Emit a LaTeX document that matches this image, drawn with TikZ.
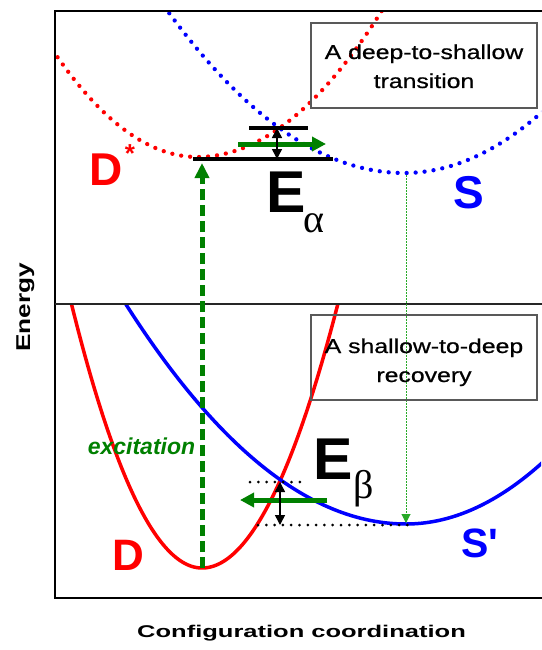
\documentclass[tikz,border=0pt]{standalone}
\usepackage{fontspec}
\setmainfont{Liberation Sans}
\newfontfamily\grk{Liberation Serif}
\newfontfamily\rawsans[Ligatures=TeXOff]{Liberation Sans}
\usepackage{graphicx}
\usetikzlibrary{arrows.meta}
\definecolor{dgreen}{RGB}{0,128,0}
\definecolor{lgreen}{RGB}{40,170,40}
\definecolor{pred}{RGB}{255,0,0}
\definecolor{pblue}{RGB}{0,0,255}
\begin{document}
\begin{tikzpicture}[x=1pt,y=-1pt,
 dotcurve/.style={line width=4.3pt, dash pattern=on 0pt off 9pt, line cap=round},
 solidcurve/.style={line width=3.5pt},
 levelline/.style={line width=3.2pt},
 dotlevel/.style={line width=3pt, dash pattern=on 0pt off 8.3pt, line cap=round},
 movearrow/.style={dgreen, line width=5pt, -{Triangle[length=14pt,width=14pt]}},
 barrier/.style={line width=1.5pt, {Triangle[length=10pt,width=10pt]}-{Triangle[length=10pt,width=10pt]}},
 biglet/.style={inner sep=0pt, anchor=base west, font=\fontsize{59}{60}\selectfont\bfseries},
 greeklet/.style={inner sep=0pt, anchor=base west, font=\fontsize{40}{40}\selectfont\grk},
 curvelabel/.style={inner sep=0pt, anchor=base west},
 infobox/.style={draw=black!65, line width=1.5pt, minimum width=226pt, minimum height=85pt, inner sep=0pt},
 infotext/.style={inner sep=0pt, font=\fontsize{20}{29}\selectfont\addfontfeature{FakeBold=0.6}}
]
\useasboundingbox (0,0) rectangle (541,650);
\fill[white] (0,0) rectangle (541,650);

% ---- curves, top panel (dotted) ----
\begin{scope}
\clip (55,13) rectangle (541,304);
\draw[pred, dotcurve] plot[domain=-150:185, samples=120]
  ({197.5+\x}, {157-((\x<0)?0.0714:0.0656)*\x*((\x<0)?0.0714:0.0656)*\x});
\draw[pblue, dotcurve] plot[domain=-240:140, samples=120]
  ({404+\x}, {173-((\x<0)?0.05385:0.05657)*\x*((\x<0)?0.05385:0.05657)*\x});
\end{scope}

% ---- curves, bottom panel (solid) ----
\begin{scope}
\clip (55,304) rectangle (541,598);
\draw[pred, solidcurve] plot[domain=-135:140, samples=120]
  ({202+\x}, {568-((\x<0)?0.1245:0.1196)*\x*((\x<0)?0.1245:0.1196)*\x});
\draw[pblue, solidcurve] plot[domain=-285:140, samples=120]
  ({406+\x}, {524-((\x<0)?0.05292:0.05745)*\x*((\x<0)?0.05292:0.05745)*\x});
\end{scope}

% ---- frame ----
\draw[line width=2pt] (545,11) -- (55,11) -- (55,598) -- (545,598);
\draw[line width=2pt, black!85] (55,304) -- (545,304);

% ---- coordinates ----
\coordinate (dmin) at (202,568);
\coordinate (extip) at (202,163);
\coordinate (smin) at (406,175);
\coordinate (spmin) at (406,523);
\coordinate (l1a) at (249,128); \coordinate (l1b) at (308,128);
\coordinate (l2a) at (193,159); \coordinate (l2b) at (333,159);
\coordinate (ga1) at (238,144); \coordinate (ga2) at (326,144);
\coordinate (ba1) at (277,128); \coordinate (ba2) at (277,159);
\coordinate (d1a) at (250,482); \coordinate (d1b) at (302,482);
\coordinate (d2a) at (258,525); \coordinate (d2b) at (410,525);
\coordinate (gb1) at (327,500); \coordinate (gb2) at (240,500);
\coordinate (bb1) at (280,482); \coordinate (bb2) at (280,525);

% ---- excitation and relaxation ----
\draw[dgreen, line width=5pt, dash pattern=on 11pt off 5pt, -{Triangle[length=15pt,width=14pt]}] (dmin) -- (extip);
\draw[lgreen, line width=1pt, dash pattern=on 1.5pt off 1.5pt, -{Triangle[length=9pt,width=9pt]}] (smin) -- (spmin);

% ---- levels ----
\draw[levelline] (l1a) -- (l1b);
\draw[levelline] (l2a) -- (l2b);
\draw[dotlevel] (d1a) -- (d1b);
\draw[dotlevel] (d2a) -- (d2b);

% ---- arrows ----
\draw[movearrow] (ga1) -- (ga2);
\draw[movearrow] (gb1) -- (gb2);
\draw[barrier] (ba1) -- (ba2);
\draw[barrier] (bb1) -- (bb2);

% ---- labels ----
\node[curvelabel, pred, font=\fontsize{46}{46}\selectfont\bfseries] (Dst) at (89.5,185) {D};
\node[inner sep=0pt, anchor=base, pred, font=\fontsize{26}{26}\selectfont\bfseries] (star) at (130,162) {*};
\node[curvelabel, pblue, font=\fontsize{46}{46}\selectfont\bfseries] (Slab) at (453,208) {S};
\node[curvelabel, pred, font=\fontsize{44}{44}\selectfont\bfseries] (Dlab) at (112.5,570) {D};
\node[curvelabel, pblue, font=\fontsize{41}{41}\selectfont\rawsans\bfseries] (Splab) at (461,557) {S'};

\node[biglet] (Ea) at (266,212) {E};
\node[greeklet] (alpha) at (303,232) {α};
\node[biglet] (Eb) at (313,479) {E};
\node[greeklet] (beta) at (353,498) {β};

\node[inner sep=0pt, anchor=base, dgreen, font=\fontsize{23}{23}\selectfont\bfseries\itshape] (exc) at (141.5,454) {excitation};

\node[infobox] (box1) at (424,65.5) {};
\node[infotext] (txt1) at (424,67.7) {\scalebox{1.24}[1]{\begin{tabular}{@{}c@{}}A deep-to-shallow\\transition\end{tabular}}};
\node[infobox] (box2) at (424,357.5) {};
\node[infotext] (txt2) at (424,361.7) {\scalebox{1.24}[1]{\begin{tabular}{@{}c@{}}A shallow-to-deep\\recovery\end{tabular}}};

\node[rotate=90, anchor=base, inner sep=0pt, font=\fontsize{20}{20}\selectfont\bfseries] (ylab) at (30,307.5) {\scalebox{1.31}[1]{Energy}};
\node[anchor=base, inner sep=0pt, font=\fontsize{17}{17}\selectfont\bfseries] (xlab) at (301.5,637) {\scalebox{1.5}[1]{Configuration coordination}};
\end{tikzpicture}
\end{document}
